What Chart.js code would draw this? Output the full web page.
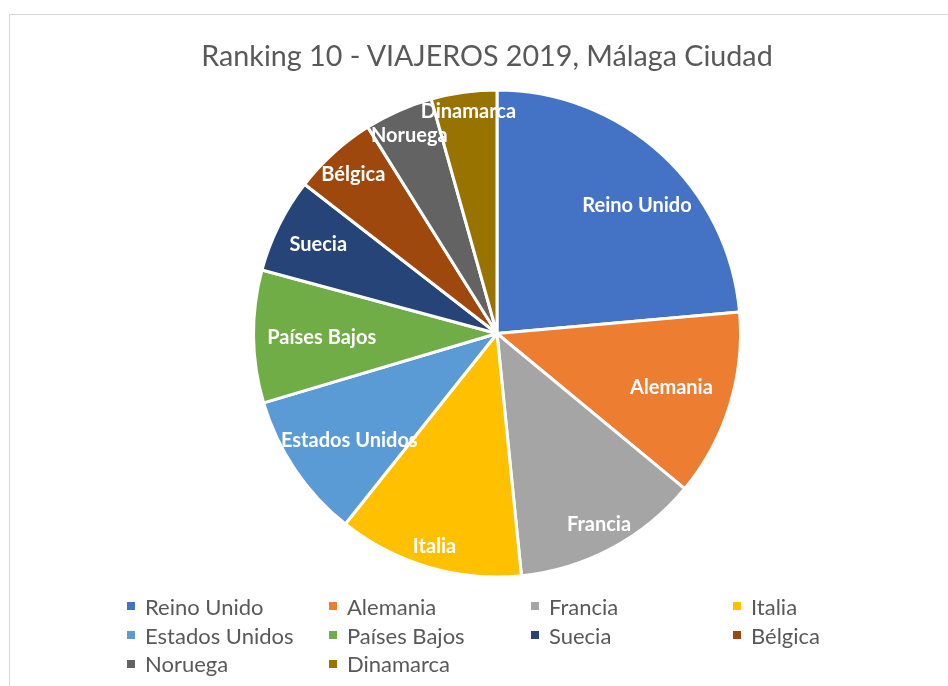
<!DOCTYPE html>
<html>
<head>
<meta charset="utf-8">
<script src="https://cdn.jsdelivr.net/npm/chart.js@4.4.1/dist/chart.umd.min.js"></script>
<style>
  html, body { margin: 0; padding: 0; background: #ffffff; overflow: hidden; }
  body { width: 948px; height: 686px; position: relative; }
  #frame { position: absolute; left: 9px; top: 14px; width: 1000px; height: 800px; border: 1px solid #d9d9d9; box-sizing: border-box; }
  #chartWrap { position: absolute; left: 0; top: 0; width: 948px; height: 686px; }
  #title { position: absolute; left: 0; width: 974px; top: 37px; text-align: center; font-family: Lato, "Open Sans", sans-serif; font-size: 28.7px; color: #595959; white-space: nowrap; line-height: 36px; }
  #legend { position: absolute; left: 127px; top: 592px; display: grid; grid-template-columns: repeat(4, 202px); grid-auto-rows: 28.7px; font-family: Lato, "Open Sans", sans-serif; font-size: 22px; color: #595959; }
  .item { display: flex; align-items: center; white-space: nowrap; }
  .sw { width: 8px; height: 8px; margin-right: 10px; flex: none; }
</style>
</head>
<body>
<div id="frame"></div>
<div id="chartWrap"><canvas id="c" width="948" height="686"></canvas></div>
<div id="title"></div>
<div id="legend"></div>
<script>
const chartTitle = "Ranking 10 - VIAJEROS 2019, Málaga Ciudad";
const countries = ["Reino Unido", "Alemania", "Francia", "Italia", "Estados Unidos", "Países Bajos", "Suecia", "Bélgica", "Noruega", "Dinamarca"];
const viajeros = [23.6, 12.4, 12.4, 12.3, 9.7, 8.8, 6.3, 5.6, 4.55, 4.35];
const colors = ["#4472C4", "#ED7D31", "#A5A5A5", "#FFC000", "#5B9BD5", "#70AD47", "#264478", "#9E480E", "#636363", "#997300"];

// label placement style (fraction of radius, angular shift in degrees)
const labelPlacement = [
  {r: 0.78, a: 5}, {r: 0.75, a: 0}, {r: 0.89, a: 0}, {r: 0.91, a: 0}, {r: 0.75, a: -2},
  {r: 0.72, a: -0.5}, {r: 0.82, a: 0}, {r: 0.88, a: 0}, {r: 0.89, a: 0}, {r: 0.92, a: 0.5}
];

const sliceLabels = {
  id: 'sliceLabels',
  afterDatasetsDraw(chart) {
    const ctx = chart.ctx;
    const meta = chart.getDatasetMeta(0);
    ctx.save();
    ctx.fillStyle = '#ffffff';
    ctx.font = 'bold 20px Lato, "Open Sans", sans-serif';
    ctx.textAlign = 'center';
    ctx.textBaseline = 'middle';
    meta.data.forEach((arc, i) => {
      const p = arc.getProps(['x', 'y', 'startAngle', 'endAngle', 'outerRadius'], true);
      const lp = labelPlacement[i];
      const mid = (p.startAngle + p.endAngle) / 2 + lp.a * Math.PI / 180;
      const rr = p.outerRadius * lp.r;
      ctx.fillText(chart.data.labels[i], p.x + Math.cos(mid) * rr, p.y + Math.sin(mid) * rr);
    });
    ctx.restore();
  }
};

const chart = new Chart(document.getElementById('c'), {
  type: 'pie',
  data: {
    labels: countries,
    datasets: [{
      data: viajeros,
      backgroundColor: colors,
      borderColor: '#ffffff',
      borderWidth: 3
    }]
  },
  options: {
    responsive: false,
    animation: false,
    layout: { padding: { top: 88.5, bottom: 107.5, left: 46, right: 0 } },
    plugins: {
      legend: { display: false },
      title: { display: false },
      tooltip: { enabled: false }
    }
  },
  plugins: [sliceLabels]
});

document.getElementById('title').textContent = chartTitle;
const legend = document.getElementById('legend');
chart.data.labels.forEach((lab, i) => {
  const it = document.createElement('div');
  it.className = 'item';
  const sw = document.createElement('span');
  sw.className = 'sw';
  sw.style.background = chart.data.datasets[0].backgroundColor[i];
  const tx = document.createElement('span');
  tx.textContent = lab;
  it.appendChild(sw);
  it.appendChild(tx);
  legend.appendChild(it);
});
</script>
</body>
</html>
